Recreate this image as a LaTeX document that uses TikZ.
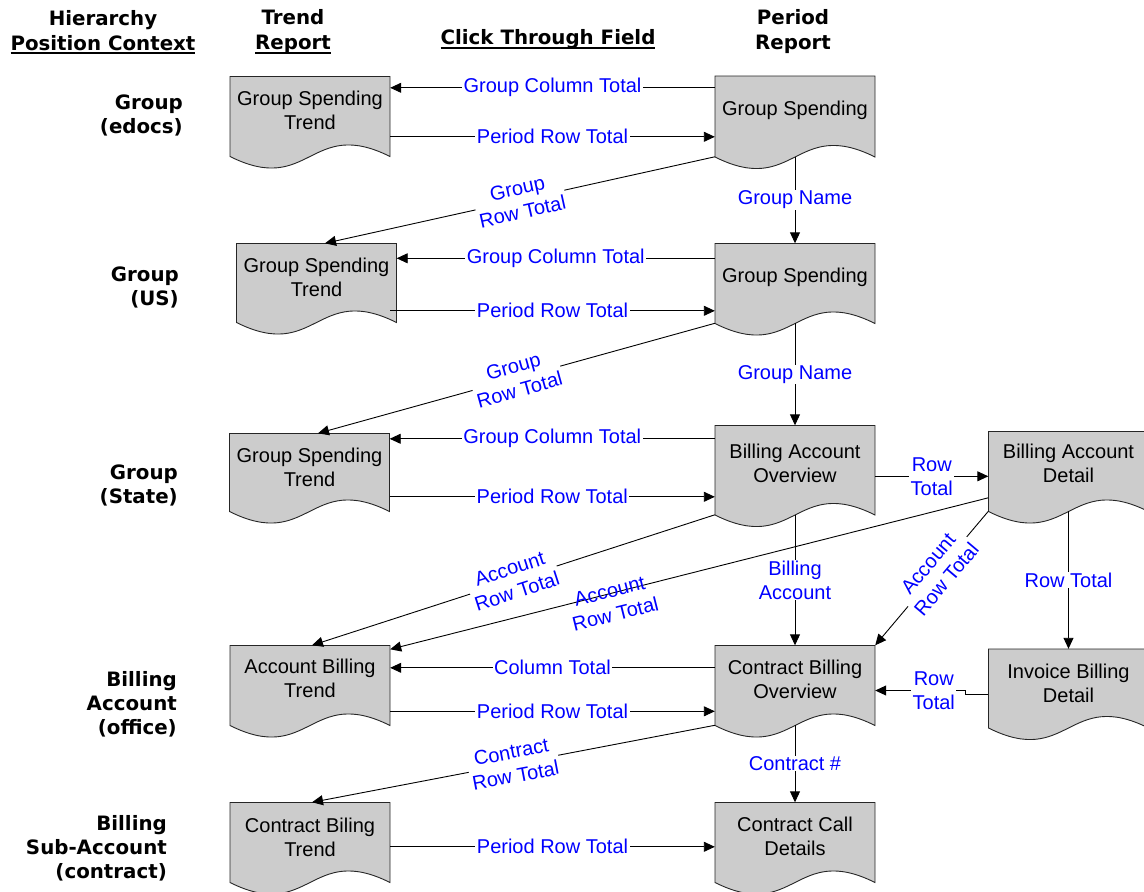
\documentclass[tikz,border=0pt]{standalone}
\usepackage{fontspec}
\setmainfont{Liberation Sans}
\newfontfamily\hdrfont{DejaVu Sans}
\usetikzlibrary{arrows.meta,calc}
\definecolor{docgray}{HTML}{CCCCCC}
\definecolor{lblue}{RGB}{0,0,255}
\newcommand\uln[1]{\setbox0\hbox{#1}\rlap{\rule[-4pt]{\wd0}{1.6pt}}\box0}
\newcommand\docshape[6]{% name, cx, top, centre offset, side height, text
  \path[docpath] (#2-80,#3) -- (#2+80,#3) -- (#2+80,#3+#5)
     .. controls +(-80,-40) and +(80,40) .. (#2-80,#3+#5) -- cycle;
  \node[doc, minimum height=2*#4] (#1) at (#2,#3+#4) {#6};
}
\begin{document}
\begin{tikzpicture}[x=1pt,y=-1pt,
  font=\fontsize{20}{24}\selectfont,
  docpath/.style={fill=docgray,draw=black!85,line width=0.9pt},
  doc/.style={minimum width=160,align=center,inner sep=0pt,text=black},
  conn/.style={draw=black,line width=0.9pt,-{Triangle[length=11pt,width=10pt]}},
  lbl/.style={fill=white,text=lblue,inner xsep=1.5pt,inner ysep=0.5pt,align=center},
  lblclear/.style={text=lblue,inner sep=0pt,align=center},
  hdr/.style={font=\hdrfont\bfseries\fontsize{19.8}{25}\selectfont,align=center,inner sep=0pt},
  rowl/.style={font=\hdrfont\bfseries\fontsize{19.8}{24}\selectfont,align=right,anchor=east,inner sep=0pt}]
\clip (0,0) rectangle (1144,892);

% headers
\node[hdr] (h1) at (103,32) {Hierarchy\\\uln{Position Context}};
\node[hdr] (h2) at (293,32) {Trend\\\uln{Report}};
\node[hdr] (h3) at (548,39.5) {\uln{Click Through Field}};
\node[hdr] (h4) at (793,32) {Period\\Report};

% row labels
\node[rowl] (r1) at (183,115.5) {Group\\(edocs)};
\node[rowl] (r2) at (179,287) {Group\\(US)};
\node[rowl] (r3) at (178,485) {Group\\(State)};
\node[rowl] (r4) at (177,704) {Billing\\Account\\(office)};
\node[rowl] (r5) at (167,848) {Billing\\Sub-Account\\(contract)};

% documents
\docshape{gst1}{310}{76.5}{34}{80}{Group Spending\\Trend}
\docshape{gs1}{795}{76}{34}{81}{Group Spending}
\docshape{gst2}{316.5}{243.5}{34}{79}{Group Spending\\Trend}
\docshape{gs2}{795}{243.5}{34}{80}{Group Spending}
\docshape{gst3}{309.5}{433.5}{34}{78}{Group Spending\\Trend}
\docshape{bao}{795}{425.5}{38}{89.5}{Billing Account\\Overview}
\docshape{bad}{1068.5}{431.5}{32}{80}{Billing Account\\Detail}
\docshape{abt}{310}{645.5}{33}{80}{Account Billing\\Trend}
\docshape{cbo}{795}{645.5}{34}{80}{Contract Billing\\Overview}
\docshape{ibd}{1068.5}{649}{34}{79}{Invoice Billing\\Detail}
\docshape{cbt}{310}{802.5}{35}{80}{Contract Biling\\Trend}
\docshape{ccd}{795}{802.5}{33.5}{80}{Contract Call\\Details}

% row 1
\draw[conn] ($(gs1.north west)+(0,12)$) coordinate (c1s) -- (c1s -| gst1.east)
  node[lbl,pos=0.5] (t1) {Group Column Total};
\draw[conn] ($(gst1.north east)+(0,60.5)$) coordinate (c2s) -- (c2s -| gs1.west)
  node[lbl,pos=0.5] (t2) {Period Row Total};
\draw[conn] ($(gs1.north west)+(0,81)$) -- ($(gst2.north)+(8.5,0)$)
  node[lbl,pos=0.5,sloped] (t3) {Group\\Row Total};
\draw[conn] ($(gs1.north)+(0,81)$) -- (gs2.north)
  node[lbl,pos=0.5] (t4) {Group Name};

% row 2
\draw[conn] ($(gs2.north west)+(0,15)$) coordinate (c5s) -- (c5s -| gst2.east)
  node[lbl,pos=0.5] (t5) {Group Column Total};
\draw[conn] ($(gst2.north east)+(-6.5,67.5)$) coordinate (c6s) -- (c6s -| gs2.west)
  node[lbl,pos=0.5] (t6) {Period Row Total};
\draw[conn] ($(gs2.north west)+(0,80)$) -- ($(gst3.north)+(8.5,0)$)
  node[lbl,pos=0.5,sloped] (t7) {Group\\Row Total};
\draw[conn] ($(gs2.north)+(0,80)$) -- (bao.north)
  node[lbl,pos=0.5] (t8) {Group Name};

% row 3
\draw[conn] ($(bao.north west)+(0,13.5)$) coordinate (c9s) -- (c9s -| gst3.east)
  node[lbl,pos=0.5] (t9) {Group Column Total};
\draw[conn] ($(gst3.north east)+(0,63.5)$) coordinate (c10s) -- (c10s -| bao.west)
  node[lbl,pos=0.5] (t10) {Period Row Total};
\draw[conn] ($(bao.north east)+(0,51)$) coordinate (c11s) -- (c11s -| bad.west)
  node[lbl,pos=0.5] (t11) {Row\\Total};
\draw[conn] ($(bad.north west)+(0,66.5)$) -- ($(abt.north east)+(0,4)$);
\node[lblclear,rotate=14.1] (t13) at (612.5,602.5) {Account\\Row Total};
\draw[conn] ($(bao.north west)+(0,89.5)$) -- ($(abt.north)+(2,0)$)
  node[lbl,pos=0.5,sloped] (t12) {Account\\Row Total};
\draw[conn] ($(bao.north)+(0,89.5)$) -- (cbo.north)
  node[lbl,pos=0.5] (t14) {Billing\\Account};
\draw[conn] ($(bad.north west)+(0,80)$) -- (cbo.north east)
  node[lbl,pos=0.45,sloped] (t15) {Account\\Row Total};
\draw[conn] ($(bad.north)+(0,80)$) -- (ibd.north)
  node[lbl,pos=0.5] (t16) {Row Total};

% row 4
\draw[conn] ($(cbo.north west)+(0,22.5)$) coordinate (c17s) -- (c17s -| abt.east)
  node[lbl,pos=0.5] (t17) {Column Total};
\draw[conn] ($(abt.north east)+(0,66)$) coordinate (c18s) -- (c18s -| cbo.west)
  node[lbl,pos=0.5] (t18) {Period Row Total};
\draw[conn] ($(ibd.north west)+(0,46)$) coordinate (c19s) -- ++(-23,0) -- ++(0,-4.3)
  coordinate (c19j) -- (c19j -| cbo.east)
  node[lbl,pos=0.35] (t19) {Row\\Total};
\draw[conn] ($(cbo.north west)+(0,80)$) -- ($(cbt.north)+(2,0)$)
  node[lbl,pos=0.5,sloped] (t20) {Contract\\Row Total};
\draw[conn] ($(cbo.north)+(0,80)$) -- (ccd.north)
  node[lbl,pos=0.5] (t21) {Contract \#};

% row 5
\draw[conn] ($(cbt.north east)+(0,44.5)$) coordinate (c22s) -- (c22s -| ccd.west)
  node[lbl,pos=0.5] (t22) {Period Row Total};
\end{tikzpicture}
\end{document}
